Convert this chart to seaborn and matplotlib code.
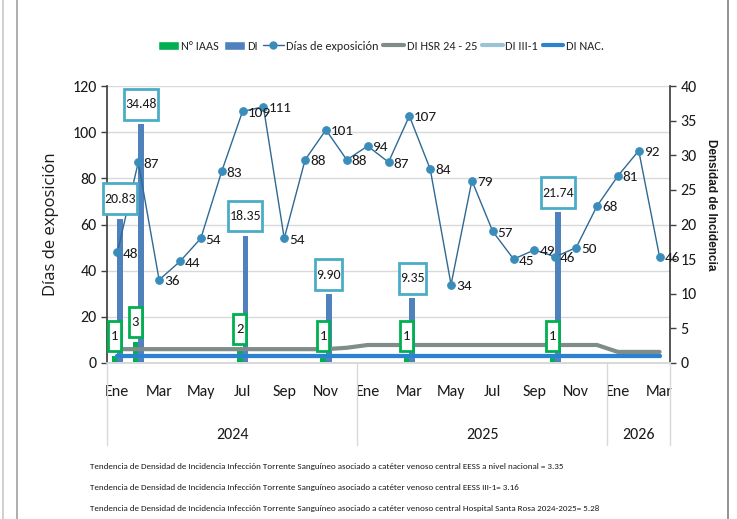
import matplotlib
matplotlib.use("Agg")
import matplotlib.pyplot as plt
import matplotlib.transforms as mtransforms
from matplotlib.lines import Line2D
from matplotlib.patches import Patch
from matplotlib.path import Path
import seaborn as sns
import pandas as pd
import numpy as np

# --- datos ---
meses = list(range(27))  # Ene 2024 ... Mar 2026
etiquetas_mes = ["Ene", "Mar", "May", "Jul", "Sep", "Nov",
                 "Ene", "Mar", "May", "Jul", "Sep", "Nov",
                 "Ene", "Mar"]
anios = ["2024", "2025", "2026"]
meses_por_anio = [12, 12, 3]

dias_exposicion = [48, 87, 36, 44, 54, 83, 109, 111, 54, 88, 101, 88,
                   94, 87, 107, 84, 34, 79, 57, 45, 49, 46, 50, 68,
                   81, 92, 46]
densidad_di = [20.83, 34.48, 0, 0, 0, 0, 18.35, 0, 0, 0, 9.90, 0,
               0, 0, 9.35, 0, 0, 0, 0, 0, 0, 21.74, 0, 0,
               0, 0, 0]
n_iaas = [1, 3, 0, 0, 0, 0, 2, 0, 0, 0, 1, 0,
          0, 0, 1, 0, 0, 0, 0, 0, 0, 1, 0, 0,
          0, 0, 0]
di_hsr = [2.0, 2.0, 2.0, 2.0, 2.0, 2.0, 2.0, 2.0, 2.0, 2.0, 2.0, 2.2,
          2.6, 2.6, 2.6, 2.6, 2.6, 2.6, 2.6, 2.6, 2.6, 2.6, 2.6, 2.6,
          1.6, 1.6, 1.6]
di_iii1 = [1.05] * 27
di_nac = [1.05] * 27

notas = [
    "Tendencia de Densidad de Incidencia Infección Torrente Sanguíneo asociado a catéter venoso central EESS a nivel nacional = 3.35",
    "Tendencia de Densidad de Incidencia Infección Torrente Sanguíneo asociado a catéter venoso central EESS III-1= 3.16",
    "Tendencia de Densidad de Incidencia Infección Torrente Sanguíneo asociado a catéter venoso central Hospital Santa Rosa 2024-2025= 5.28",
]

VERDE = "#00b050"
AZUL_BARRA = "#4f81bd"
LINEA_DIAS = "#2d6a96"
MARCA_DIAS = "#3a8dba"
GRIS = "#7f8c8a"
CELESTE = "#9cc3d5"
AZUL_NAC = "#2b82d0"
BORDE_DI = "#4bacc6"
TEXTO = "#1a1a1a"

sns.set_theme(style="white")
plt.rcParams["font.family"] = ["Carlito", "Liberation Sans", "DejaVu Sans"]


def caja(fx, fy):
    # recuadro más alto que ancho, como las etiquetas de Excel
    def estilo(x0, y0, width, height, mutation_size):
        px = fx * mutation_size
        py = fy * mutation_size
        x0, y0 = x0 - px, y0 - py
        x1, y1 = x0 + width + 2 * px, y0 + height + 2 * py
        return Path([(x0, y0), (x1, y0), (x1, y1), (x0, y1), (x0, y0)],
                    closed=True)
    return estilo


fig = plt.figure(figsize=(7.37, 5.19), dpi=100)
ax = fig.add_axes([107 / 737, 1 - 363 / 519, 563 / 737, 277 / 519])
ax2 = ax.twinx()
ax.set_zorder(ax2.get_zorder() + 1)
ax.patch.set_visible(False)

y1_max, y2_max = 120, 40

# cuadrícula según el eje izquierdo, dibujada detrás de las barras
for v in range(20, y1_max + 1, 20):
    ax2.axhline(v * y2_max / y1_max, color="#d9d9d9", lw=1, zorder=0)

# barras en el eje secundario
df_barras = pd.DataFrame({
    "mes": meses * 2,
    "valor": n_iaas + densidad_di,
    "serie": ["N° IAAS"] * len(meses) + ["DI"] * len(meses),
})
ancho = 0.55
sns.barplot(data=df_barras, x="mes", y="valor", hue="serie",
            hue_order=["N° IAAS", "DI"], palette=[VERDE, AZUL_BARRA],
            width=ancho, dodge=True, errorbar=None, saturation=1,
            legend=False, ax=ax2, zorder=2, edgecolor="none", linewidth=0)

# líneas de referencia (eje secundario)
sns.lineplot(x=meses, y=di_hsr, ax=ax2, color=GRIS, lw=3, zorder=3)
sns.lineplot(x=meses, y=di_iii1, ax=ax2, color=CELESTE, lw=3, zorder=3)
sns.lineplot(x=meses, y=di_nac, ax=ax2, color=AZUL_NAC, lw=3, zorder=4)

# días de exposición (eje principal)
sns.lineplot(x=meses, y=dias_exposicion, ax=ax, color=LINEA_DIAS, lw=1,
             marker="o", markersize=5.5, markerfacecolor=MARCA_DIAS,
             markeredgecolor=MARCA_DIAS, zorder=3)
for i, v in zip(meses, dias_exposicion):
    ax.annotate(str(v), (i, v), xytext=(3.5, -1), textcoords="offset points",
                ha="left", va="center", fontsize=11, color=TEXTO)

# etiquetas de las barras
desplaz = ancho / 4
for i, v in zip(meses, densidad_di):
    if v > 0:
        ax.annotate(f"{v:.2f}", (i + desplaz, v), xycoords=ax2.transData,
                    xytext=(0, 10), textcoords="offset points",
                    ha="center", va="bottom", fontsize=10, color=TEXTO,
                    bbox=dict(boxstyle=caja(0.08, 0.68), fc="white",
                              ec=BORDE_DI, lw=2),
                    zorder=6)
for i, v in zip(meses, n_iaas):
    if v > 0:
        ax.annotate(str(v), (i - desplaz, v), xycoords=ax2.transData,
                    xytext=(0, 10), textcoords="offset points",
                    ha="center", va="bottom", fontsize=10.5, color=TEXTO,
                    bbox=dict(boxstyle=caja(0.18, 0.62), fc="white",
                              ec=VERDE, lw=2),
                    zorder=6)

# ejes
ax.set_ylim(0, y1_max)
ax.set_yticks(range(0, y1_max + 1, 20))
ax2.set_ylim(0, y2_max)
ax2.set_yticks(range(0, y2_max + 1, 5))
ax.set_xlim(-0.5, len(meses) - 0.5)
ax.set_xticks(range(0, len(meses), 2))
ax.set_xticklabels(etiquetas_mes)
ax.tick_params(axis="x", length=0, pad=16, labelsize=11.5, colors=TEXTO)
ax.tick_params(axis="y", direction="out", length=4, width=1, color="#404040",
               labelsize=11.5, labelcolor=TEXTO, left=True)
ax2.tick_params(axis="y", direction="out", length=4, width=1, color="#404040",
                labelsize=11.5, labelcolor=TEXTO, right=True)
ax.set_xlabel("")
ax2.set_xlabel("")

ax.set_ylabel("Días de exposición", family="Open Sans", fontsize=12,
              color=TEXTO)
ax.yaxis.set_label_coords(-0.086, 0.5)
ax2.set_ylabel("Densidad de Incidencia", family="Liberation Sans",
               fontweight="bold", fontsize=8.5, rotation=270, color=TEXTO)
ax2.yaxis.set_label_coords(1.083, 0.57)

for a in (ax, ax2):
    a.spines["top"].set_visible(False)
    a.spines["bottom"].set_color("#d9d9d9")
    a.spines["left"].set_color("#404040")
    a.spines["right"].set_color("#404040")
ax.spines["right"].set_visible(False)
ax2.spines["left"].set_visible(False)

# eje de categorías en dos niveles: años y separadores
mezcla = mtransforms.blended_transform_factory(ax.transData, ax.transAxes)
limites = np.concatenate([[0], np.cumsum(meses_por_anio)]) - 0.5
for x in limites:
    ax.plot([x, x], [0, -0.296], transform=mezcla, color="#d9d9d9", lw=1,
            clip_on=False)
for anio, a0, a1 in zip(anios, limites[:-1], limites[1:]):
    ax.text((a0 + a1) / 2, -0.26, anio, transform=mezcla, ha="center",
            va="center", fontsize=11.5, color=TEXTO)

# leyenda
manejadores = [
    Patch(fc=VERDE),
    Patch(fc=AZUL_BARRA),
    Line2D([], [], color=LINEA_DIAS, lw=1, marker="o", ms=5,
           mfc=MARCA_DIAS, mec=MARCA_DIAS),
    Line2D([], [], color=GRIS, lw=3),
    Line2D([], [], color=CELESTE, lw=3),
    Line2D([], [], color=AZUL_NAC, lw=3),
]
nombres = ["N° IAAS", "DI", "Días de exposición", "DI HSR 24 - 25",
           "DI III-1", "DI NAC."]
fig.legend(manejadores, nombres, loc="center", bbox_to_anchor=(0.517, 0.911),
           ncol=6, frameon=False, fontsize=8.8, handlelength=1.7,
           handletextpad=0.2, columnspacing=0.4)

# notas al pie
for k, nota in enumerate(notas):
    fig.text(90 / 737, 1 - (467 + 20.5 * k) / 519, nota, fontsize=6.5,
             va="center", ha="left", color=TEXTO)

# marco del gráfico
for xf, c in [(3 / 737, "#c8c8c8"), (17 / 737, "#a0a0a0"), (728 / 737, "#808080")]:
    fig.add_artist(Line2D([xf, xf], [0, 1], color=c, lw=1.2,
                          transform=fig.transFigure))

fig.savefig("out.png", dpi=100)
plt.close(fig)
